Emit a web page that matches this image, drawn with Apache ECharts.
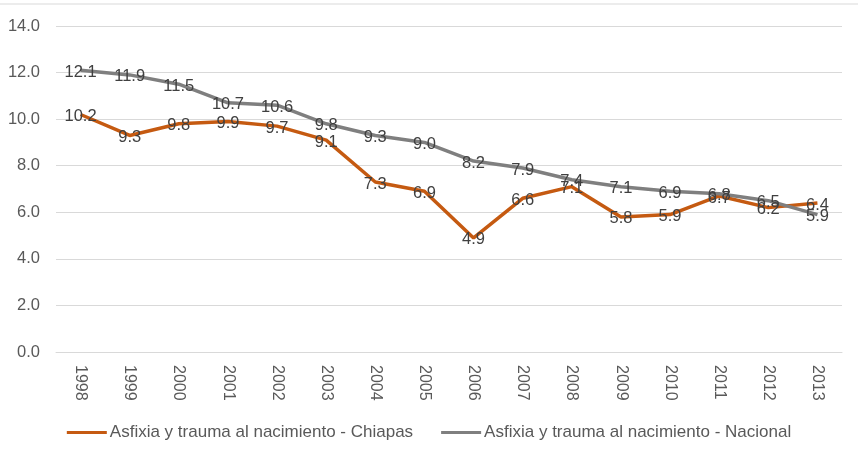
<!DOCTYPE html>
<html>
<head>
<meta charset="utf-8">
<script src="https://cdn.jsdelivr.net/npm/echarts@6/dist/echarts.min.js"></script>
<style>
  html, body { margin: 0; padding: 0; background: #fff; }
  #chart { width: 858px; height: 454px; }
</style>
</head>
<body>
<div id="chart"></div>
<script>
// 年份
const years = ['1998', '1999', '2000', '2001', '2002', '2003', '2004', '2005',
  '2006', '2007', '2008', '2009', '2010', '2011', '2012', '2013'];
// 数据
const chiapas = [10.2, 9.3, 9.8, 9.9, 9.7, 9.1, 7.3, 6.9, 4.9, 6.6, 7.1, 5.8, 5.9, 6.7, 6.2, 6.4];
const nacional = [12.1, 11.9, 11.5, 10.7, 10.6, 9.8, 9.3, 9.0, 8.2, 7.9, 7.4, 7.1, 6.9, 6.8, 6.5, 5.9];
const seriesNames = ['Asfixia y trauma al nacimiento - Chiapas', 'Asfixia y trauma al nacimiento - Nacional'];

const fontFamily = '"Liberation Sans", "DejaVu Sans", sans-serif';

const lineSeries = (name, data, color) => ({
  name,
  type: 'line',
  data,
  symbol: 'circle',
  symbolSize: 0.1,
  lineStyle: {color, width: 3.5},
  itemStyle: {color},
  label: {
    show: true,
    position: 'inside',
    offset: [0, 2],
    formatter: (p) => p.value.toFixed(1),
    color: '#404040',
    fontSize: 16.5,
    fontFamily
  }
});

const chart = echarts.init(document.getElementById('chart'));
chart.setOption({
  animation: false,
  grid: {left: 56, right: 16, top: 26, bottom: 102},
  xAxis: {
    type: 'category',
    data: years,
    axisLine: {lineStyle: {color: '#d9d9d9'}},
    axisTick: {show: false},
    axisLabel: {rotate: -90, color: '#595959', fontSize: 16, fontFamily, margin: 13}
  },
  yAxis: {
    type: 'value',
    min: 0,
    max: 14,
    interval: 2,
    axisLine: {show: false},
    axisTick: {show: false},
    splitLine: {lineStyle: {color: '#d9d9d9'}},
    axisLabel: {formatter: (v) => v.toFixed(1), color: '#595959', fontSize: 16.5, fontFamily, margin: 16}
  },
  legend: {
    bottom: 8,
    left: 'center',
    icon: 'rect',
    itemWidth: 40,
    itemHeight: 3,
    itemGap: 28,
    textStyle: {color: '#595959', fontSize: 17, fontFamily, padding: [0, 0, 0, -2]}
  },
  graphic: [{
    type: 'line',
    shape: {x1: 0, y1: 4, x2: 858, y2: 4},
    style: {stroke: '#d9d9d9', lineWidth: 1}
  }],
  series: [
    lineSeries(seriesNames[0], chiapas, '#c55a11'),
    lineSeries(seriesNames[1], nacional, '#7f7f7f')
  ]
});
</script>
</body>
</html>
